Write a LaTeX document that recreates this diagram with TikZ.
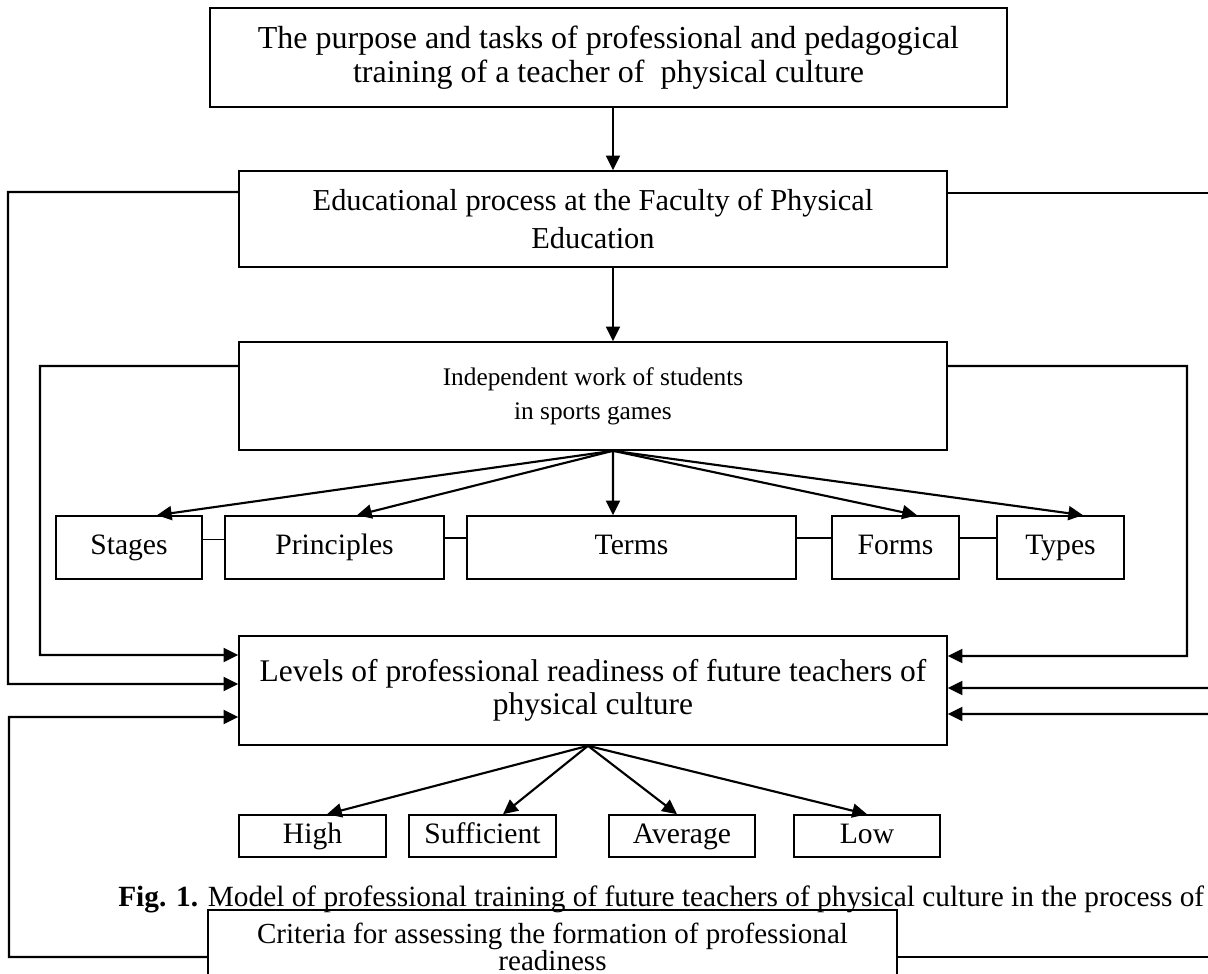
\documentclass[tikz,border=0pt]{standalone}
\usepackage{fontspec}
\setmainfont{Liberation Serif}
\usetikzlibrary{arrows.meta}
\begin{document}
\begin{tikzpicture}[x=0.75pt,y=-0.75pt,
  bx/.style={draw, line width=1.2pt, inner sep=0pt, align=center},
  one/.style={bx, text height=15.5pt, text depth=5pt, font=\fontsize{22.2}{26}\selectfont},
  arr/.style={line width=1.6pt, -{Triangle[length=11pt,width=10.5pt]}},
  ln/.style={line width=1.6pt},
  lk/.style={line width=1.2pt}]
\useasboundingbox (0,0) rectangle (1208,974);

\node[bx, minimum width=797*0.75pt, minimum height=99*0.75pt, font=\fontsize{24}{25.5}\selectfont] (top) at (608.5,57.5)
  {The purpose and tasks of professional and pedagogical\\training of a teacher of~ physical culture};
\node[bx, minimum width=708*0.75pt, minimum height=96*0.75pt, font=\fontsize{22.8}{29}\selectfont] (edu) at (593,219)
  {Educational process at the Faculty of Physical\\Education};
\node[bx, minimum width=708*0.75pt, minimum height=108*0.75pt, font=\fontsize{19}{25.5}\selectfont] (ind) at (593,396)
  {Independent work of students\\in sports games};

\node[one, minimum width=146*0.75pt, minimum height=63*0.75pt] (stages) at (129,547.5) {Stages};
\node[one, minimum width=219*0.75pt, minimum height=63*0.75pt] (principles) at (334.5,547.5) {Principles};
\node[one, minimum width=329*0.75pt, minimum height=63*0.75pt] (terms) at (631.5,547.5) {Terms};
\node[one, minimum width=127*0.75pt, minimum height=63*0.75pt] (forms) at (895.5,547.5) {Forms};
\node[one, minimum width=127*0.75pt, minimum height=63*0.75pt] (types) at (1060.5,547.5) {Types};

\node[bx, minimum width=708*0.75pt, minimum height=109*0.75pt, font=\fontsize{23.6}{24.5}\selectfont] (levels) at (593,690.5)
  {Levels of professional readiness of future teachers of\\physical culture};

\node[one, minimum width=147*0.75pt, minimum height=42*0.75pt] (high) at (312.5,836) {High};
\node[one, minimum width=147*0.75pt, minimum height=42*0.75pt] (suff) at (482.5,836) {Sufficient};
\node[one, minimum width=146*0.75pt, minimum height=42*0.75pt] (avg) at (682,836) {Average};
\node[one, minimum width=146*0.75pt, minimum height=42*0.75pt] (low) at (867,836) {Low};

\node[anchor=base west, inner sep=0pt, font=\fontsize{22}{24}\selectfont] (cap) at (118,906)
  {\textbf{Fig. 1.} Model of professional training of future teachers of physical culture in the process of};

\node[bx, minimum width=689*0.75pt, minimum height=74*0.75pt, font=\fontsize{21.8}{17.5}\selectfont] (crit) at (552.5,947)
  {Criteria for assessing the formation of professional\\readiness};

% vertical arrows
\draw[arr] ([xshift=15pt]edu.north |- top.south) -- ([xshift=15pt]edu.north);
\draw[arr] ([xshift=15pt]edu.south) -- ([xshift=15pt]ind.north);

% fan to row
\draw[arr] ([xshift=15pt]ind.south) -- ([xshift=21pt]stages.north);
\draw[arr] ([xshift=15pt]ind.south) -- ([xshift=16.9pt]principles.north);
\draw[arr] ([xshift=15pt]ind.south) -- ([xshift=-13.9pt]terms.north);
\draw[arr] ([xshift=15pt]ind.south) -- ([xshift=16.1pt]forms.north);
\draw[arr] ([xshift=15pt]ind.south) -- ([xshift=16.9pt]types.north);

% row links
\draw[lk] ([yshift=6pt]stages.east) -- ([yshift=6pt]principles.west);
\draw[lk] ([yshift=7pt]principles.east) -- ([yshift=7pt]terms.west);
\draw[lk] ([yshift=7pt]terms.east) -- ([yshift=7pt]forms.west);
\draw[lk] ([yshift=7pt]forms.east) -- ([yshift=7pt]types.west);

% fan to levels
\draw[arr] ([xshift=-3.75pt]levels.south) -- ([xshift=10.9pt]high.north);
\draw[arr] ([xshift=-3.75pt]levels.south) -- ([xshift=15.4pt]suff.north);
\draw[arr] ([xshift=-3.75pt]levels.south) -- ([xshift=-3.75pt]avg.north);
\draw[arr] ([xshift=-3.75pt]levels.south) -- (low.north);

% side feedback lines
\coordinate (lo) at (8,684);
\coordinate (li) at (40,655);
\coordinate (lb) at (9,717);
\coordinate (ri) at (1187,656);
\coordinate (re1) at (1215,193);
\coordinate (re2) at (1215,688);
\coordinate (re3) at (1215,714);
\coordinate (re4) at (1215,957);

\draw[arr] ([yshift=20.25pt]edu.west) -| (lo) -- ([yshift=4.9pt]levels.west);
\draw[arr] ([yshift=22.5pt]ind.west) -| (li) -- ([yshift=26.6pt]levels.west);
\draw[arr] ([yshift=-7.5pt]crit.west) -| (lb) -- ([yshift=-19.9pt]levels.west);

\draw[ln] ([yshift=19.5pt]edu.east) -- (re1);
\draw[arr] ([yshift=22.5pt]ind.east) -| (ri) -- ([yshift=25.9pt]levels.east);
\draw[arr] (re2) -- ([yshift=1.9pt]levels.east);
\draw[arr] (re3) -- ([yshift=-17.6pt]levels.east);
\draw[ln] ([yshift=-7.5pt]crit.east) -- (re4);
\end{tikzpicture}
\end{document}
